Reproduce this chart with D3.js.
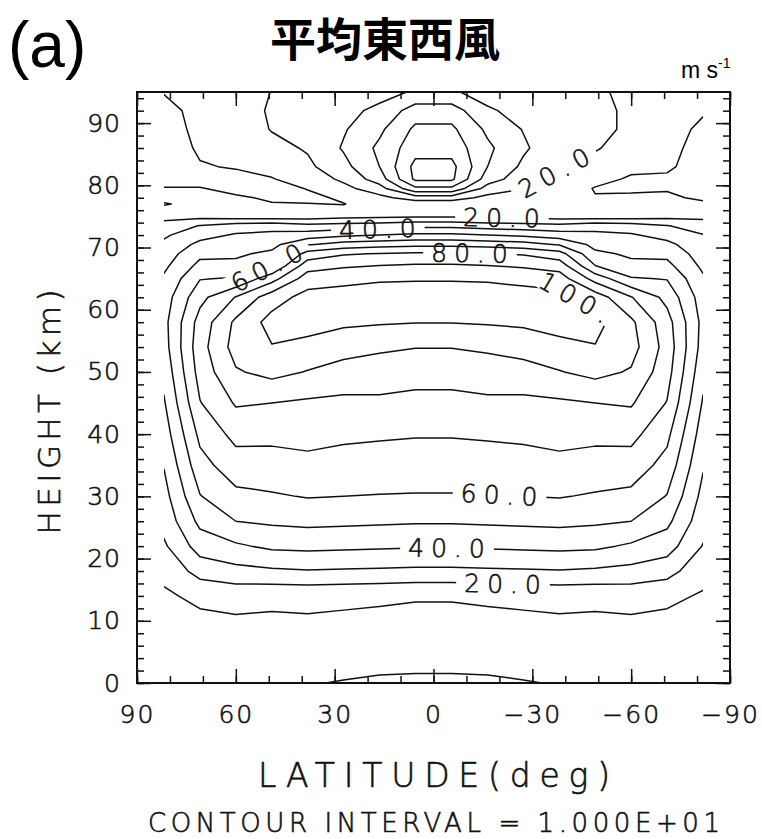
<!doctype html>
<html lang="ja">
<head>
<meta charset="utf-8">
<title>平均東西風</title>
<script src="https://cdn.jsdelivr.net/npm/d3@7"></script>
<style>
  body { margin: 0; background: #fff; }
  .plot-text { font-family: "DejaVu Sans", "Liberation Sans", sans-serif; font-weight: 200; fill: #111; stroke: #111; stroke-width: 0.6px; }
</style>
</head>
<body>
<div id="chart"></div>
<script>
// model grid latitudes (deg), north to south
var lats = [81.8, 70.9, 60.0, 49.1, 38.2, 27.3, 16.4, 5.5, -5.5, -16.4, -27.3, -38.2, -49.1, -60.0, -70.9, -81.8];

// heights of the grid rows (km)
var heights = [0, 2, 5, 10, 14, 18, 22, 26, 30, 35, 40, 45, 50, 54, 58, 62, 65, 67, 69, 70.5,
               72, 73.5, 75, 76, 77, 78, 79.5, 81, 83, 86, 89, 92, 95];

// zonal mean zonal wind (m/s), one row per height
var windRows = [
  [2, 2.5, 2.5, 1.5, 0.5, -0.5, -1.5, -2, -2, -1.5, -0.5, 0.5, 1.5, 2.5, 2.5, 2],            // 0
  [3, 3.5, 3.5, 3, 2, 1.5, 0.8, 0.6, 0.6, 0.8, 1.5, 2, 3, 3.5, 3.5, 3],                     // 2
  [4, 5, 5.5, 5.5, 4.5, 4, 3.5, 3, 3, 3.5, 4, 4.5, 5.5, 5.5, 5, 4],                         // 5
  [6.5, 8.3, 8.8, 8.5, 9, 8.5, 8, 7.5, 7.5, 8, 8.5, 9, 8.5, 8.8, 8.3, 6.8],                 // 10
  [8.8, 11.8, 13.5, 12.5, 12.5, 12, 11.5, 10.8, 10.8, 11.5, 12, 12.5, 12.5, 13.5, 11.8, 9.2], // 14
  [12, 24, 27, 28.5, 29.5, 29, 28.5, 28, 28, 28.5, 29, 29.5, 28.5, 27, 24, 12.8],           // 18
  [18.5, 34.5, 38.5, 42, 42.5, 42, 41.5, 41, 41, 41.5, 42, 42.5, 42, 38.5, 34.5, 19.5],     // 22
  [23.5, 42.5, 50, 51.5, 52.5, 52, 51.5, 51, 51, 51.5, 52, 52.5, 51.5, 50, 42.5, 24],       // 26
  [26.5, 49.5, 57.5, 59, 60.5, 60, 59.5, 59.2, 59.2, 59.5, 60, 60.5, 59, 57.5, 49.5, 27],   // 30
  [30.5, 56.5, 65.5, 66, 67.5, 67, 66.5, 66.5, 66.5, 66.5, 67, 67.5, 66, 65.5, 56.5, 31],   // 35
  [35, 62.5, 73, 72.5, 73, 71.5, 71, 70.5, 70.5, 71, 71.5, 73, 72.5, 73, 62.5, 35],         // 40
  [39, 69.5, 81, 80, 78.5, 77.5, 78, 77, 77, 78, 77.5, 78.5, 80, 81, 69.5, 39],             // 45
  [43, 74, 89, 93, 89.5, 87, 85.5, 84, 84, 85.5, 87, 89.5, 93, 89, 74, 43],                 // 50
  [46, 76, 94, 99.5, 97, 93, 91.5, 90.3, 90.3, 91.5, 93, 97, 99.5, 94, 76, 46],             // 54
  [47, 74, 92, 103.5, 104, 102, 101, 100.3, 100.3, 101, 102, 104, 103.5, 92, 74, 47],       // 58
  [45, 67, 80.5, 95.5, 103.5, 104.5, 106, 106, 106, 106, 104.5, 103.5, 95.5, 80.5, 67, 45], // 62
  [41.5, 59.5, 61, 76, 95, 97, 98.5, 99, 99, 98.5, 97, 95, 76, 61, 59.5, 41.5],             // 65
  [38, 53, 52.5, 60.5, 86, 89, 90.5, 91.5, 91.5, 90.5, 89, 86, 60.5, 52.5, 53, 38],         // 67
  [35, 47.5, 48.5, 52, 74, 79, 80.5, 81.5, 81.5, 80.5, 79, 74, 52, 48.5, 47.5, 35],         // 69
  [32, 42.5, 45, 47, 59, 64, 66, 67, 67, 66, 64, 59, 47, 45, 42.5, 33],                     // 70.5
  [28.5, 36.5, 41, 42.5, 45, 48, 50, 52, 52, 50, 48, 45, 42.5, 41, 36.5, 30.5],             // 72
  [23, 30.5, 35, 36, 33, 34, 35, 37, 37, 35, 34, 33, 36, 35, 30.5, 24],                     // 73.5
  [17.5, 17, 15, 15, 15, 17, 18, 19, 19, 18, 17, 15, 15, 15, 17, 18],                       // 75
  [12, 13.5, 12, 10.5, 11.5, 11.5, 12, 12.5, 12.5, 12, 12, 11.5, 11, 12, 13.5, 14],         // 76
  [9.5, 12, 11, 10.2, 10.2, 9.8, 13, 14, 14, 13, 11.5, 11, 10.5, 11, 12, 11],               // 77
  [12, 11.5, 10.5, 9.5, 8.5, 11, 17, 25, 25, 17, 13, 11.5, 10.3, 10.5, 11, 9],              // 78
  [10.3, 10.2, 9, 7.5, 10.3, 17, 26, 48, 48, 26, 20.5, 14, 9.6, 9.5, 9.5, 7.5],             // 79.5
  [8, 8.5, 8, 9.5, 14, 22, 35, 62, 62, 35, 24, 17, 12, 9.2, 9, 7],                          // 81
  [6.5, 9.5, 10.5, 13, 18, 27, 40, 63, 63, 40, 28, 21, 16, 11.5, 11, 7],                    // 83
  [6, 11, 13, 17, 21, 31, 42, 56, 56, 42, 31.5, 23, 21, 15, 12, 7.5],                       // 86
  [6.5, 12, 14, 20.5, 22, 29, 38, 52, 52, 38, 29.5, 24, 23, 18, 12, 9],                     // 89
  [8, 12, 14, 21.5, 22, 27.5, 32, 45, 45, 31, 27.5, 24, 23, 18, 12, 10.5],                  // 92
  [10.3, 11.5, 13.5, 20.3, 20.5, 24, 27, 31, 31, 27, 24, 23, 22, 17, 11.5, 12]              // 95
];

var levels = [0, 10, 20, 30, 40, 50, 60, 70, 80, 90, 100, 110];
var latTicks = [90, 60, 30, 0, -30, -60, -90];
var heightTicks = [0, 10, 20, 30, 40, 50, 60, 70, 80, 90];

// contour labels: level, and roughly where on that contour it sits
var labels = [
  {level: 20, lat: -22, z: 15.9, text: "20.0"},
  {level: 40, lat: -5, z: 21.9, text: "40.0"},
  {level: 60, lat: -21, z: 30.5, text: "60.0"},
  {level: 80, lat: -12, z: 69.1, text: "80.0"},
  {level: 40, lat: 16, z: 73.1, text: "40.0"},
  {level: 20, lat: -21.7, z: 74.7, text: "20.0"},
  {level: 60, lat: 49.6, z: 66.9, text: "60.0"},
  {level: 100, lat: -40.8, z: 59.5, text: "100."},
  {level: 20, lat: -36.9, z: 82.8, text: "20.0"}
];

var W = 762, H = 839;
var svg = d3.select("#chart").append("svg")
    .attr("width", W).attr("height", H)
    .style("background", "#fff");

var x = d3.scaleLinear().domain([90, -90]).range([137, 730]);
var y = d3.scaleLinear().domain([0, 95]).range([683, 92]);

var nx = lats.length, ny = heights.length;
// grid index -> lat / height (piecewise linear, grid is not evenly spaced)
var colLat = d3.scaleLinear().domain(d3.range(nx)).range(lats);
var rowZ = d3.scaleLinear().domain(d3.range(ny)).range(heights);

var values = [].concat.apply([], windRows);
var contours = d3.contours().size([nx, ny]).thresholds(levels)(values);

function toPx(p) { return [x(colLat(p[0] - 0.5)), y(rowZ(p[1] - 0.5))]; }

var proj = d3.geoTransform({
  point: function(px, py) { var q = toPx([px, py]); this.stream.point(q[0], q[1]); }
});
var path = d3.geoPath(proj);

var clipX0 = x(lats[0]), clipX1 = x(lats[nx - 1]);
var defs = svg.append("defs");
defs.append("clipPath").attr("id", "gridclip")
  .append("rect")
    .attr("x", clipX0).attr("y", y(95))
    .attr("width", clipX1 - clipX0).attr("height", y(0) - y(95));

//find each label's spot on its contour
function ringsFor(level) {
  var c = contours.find(function(d) { return d.value === level; });
  var out = [];
  if (!c) return out;
  c.coordinates.forEach(function(poly) {
    poly.forEach(function(ring) { out.push(ring.map(toPx)); });
  });
  return out;
}

function inside(p) { return p[0] >= clipX0 && p[0] <= clipX1 && p[1] >= y(95) && p[1] <= y(0); }

function walk(ring, k, t, dist, dir) {
  // walk along ring from point on segment k (param t) by dist in direction dir
  var n = ring.length;
  var cur = [ring[k][0] + t * (ring[(k + 1) % n][0] - ring[k][0]), ring[k][1] + t * (ring[(k + 1) % n][1] - ring[k][1])];
  var idx = dir > 0 ? (k + 1) % n : k;
  var left = dist;
  for (var s = 0; s < n; s++) {
    var nxt = ring[idx];
    var dx = nxt[0] - cur[0], dy = nxt[1] - cur[1], len = Math.hypot(dx, dy);
    if (len >= left && len > 0) return [cur[0] + dx * left / len, cur[1] + dy * left / len];
    left -= len; cur = nxt;
    idx = dir > 0 ? (idx + 1) % n : (idx - 1 + n) % n;
  }
  return cur;
}

labels.forEach(function(lb) {
  var hx = x(lb.lat), hy = y(lb.z), best = null;
  ringsFor(lb.level).forEach(function(ring) {
    for (var k = 0; k < ring.length - 1; k++) {
      var a = ring[k], b = ring[k + 1];
      if (!inside(a) || !inside(b)) continue;
      var dx = b[0] - a[0], dy = b[1] - a[1], l2 = dx * dx + dy * dy;
      var t = l2 ? Math.max(0, Math.min(1, ((hx - a[0]) * dx + (hy - a[1]) * dy) / l2)) : 0;
      var px = a[0] + t * dx, py = a[1] + t * dy, d = Math.hypot(px - hx, py - hy);
      if (!best || d < best.d) best = {d: d, ring: ring, k: k, t: t, px: px, py: py};
    }
  });
  if (!best) { lb.px = hx; lb.py = hy; lb.angle = 0; return; }
  var p0 = walk(best.ring, best.k, best.t, 24, -1);
  var p1 = walk(best.ring, best.k, best.t, 24, 1);
  var ang = Math.atan2(p1[1] - p0[1], p1[0] - p0[0]) * 180 / Math.PI;
  if (ang > 90) ang -= 180;
  if (ang < -90) ang += 180;
  lb.px = best.px; lb.py = best.py; lb.angle = ang;
});

// text layer first so widths can be measured for the gaps
var labelG = svg.append("g").attr("class", "labels");
labels.forEach(function(lb) {
  lb.node = labelG.append("text")
      .attr("class", "plot-text")
      .attr("transform", "translate(" + lb.px + "," + lb.py + ") rotate(" + lb.angle + ")")
      .attr("text-anchor", "middle")
      .attr("dy", "0.36em")
      .attr("font-size", 25)
      .attr("letter-spacing", 7)
      .text(lb.text);
  lb.w = lb.node.node().getComputedTextLength();
});

// masks cut a gap into a contour where its label sits
levels.forEach(function(lv) {
  var m = defs.append("mask").attr("id", "mask" + lv).attr("maskUnits", "userSpaceOnUse")
      .attr("x", 0).attr("y", 0).attr("width", W).attr("height", H);
  m.append("rect").attr("width", W).attr("height", H).attr("fill", "#fff");
  labels.filter(function(lb) { return lb.level === lv; }).forEach(function(lb) {
    m.append("rect")
      .attr("x", -lb.w / 2 - 8).attr("y", -10)
      .attr("width", lb.w + 10).attr("height", 20)
      .attr("transform", "translate(" + lb.px + "," + lb.py + ") rotate(" + lb.angle + ")")
      .attr("fill", "#000");
  });
});

svg.append("g")
    .attr("clip-path", "url(#gridclip)")
  .selectAll("path")
  .data(contours)
  .enter().append("path")
    .attr("d", path)
    .attr("mask", function(d) { return "url(#mask" + d.value + ")"; })
    .attr("fill", "none")
    .attr("stroke", "#111")
    .attr("stroke-width", 1.5)
    .attr("stroke-linejoin", "round");

labelG.raise();

// axes, ticks pointing into the frame
function addAxis(axis, tr) {
  var g = svg.append("g").attr("transform", tr).call(axis);
  g.select(".domain").remove();
  g.selectAll("line").attr("stroke", "#111").attr("stroke-width", 1.5);
  g.selectAll("text").attr("class", "plot-text").attr("font-size", 25).attr("fill", "#111");
  g.attr("font-family", null).attr("font-size", null);
  return g;
}
var minorLat = d3.range(-90, 91, 10), minorZ = d3.range(0, 95, 2);

addAxis(d3.axisBottom(x).tickValues(minorLat).tickSize(-7).tickFormat(""), "translate(0,683)");
addAxis(d3.axisBottom(x).tickValues(latTicks).tickSize(-14).tickPadding(22), "translate(0,683)")
  .selectAll("text").attr("letter-spacing", 2);
addAxis(d3.axisTop(x).tickValues(minorLat).tickSize(-7).tickFormat(""), "translate(0,92)");
addAxis(d3.axisTop(x).tickValues(latTicks).tickSize(-14).tickFormat(""), "translate(0,92)");
addAxis(d3.axisLeft(y).tickValues(minorZ).tickSize(-7).tickFormat(""), "translate(137,0)");
addAxis(d3.axisLeft(y).tickValues(heightTicks).tickSize(-14).tickPadding(16), "translate(137,0)")
  .selectAll("text").attr("letter-spacing", 1);
addAxis(d3.axisRight(y).tickValues(minorZ).tickSize(-7).tickFormat(""), "translate(730,0)");
addAxis(d3.axisRight(y).tickValues(heightTicks).tickSize(-14).tickFormat(""), "translate(730,0)");

// frame
svg.append("rect")
    .attr("x", 137).attr("y", 92)
    .attr("width", 730 - 137).attr("height", 683 - 92)
    .attr("fill", "none").attr("stroke", "#111").attr("stroke-width", 2);

// titles
svg.append("text")
    .attr("x", 8).attr("y", 67)
    .attr("font-family", "Liberation Sans, Arial, sans-serif")
    .attr("font-size", 64)
    .text("(a)");

svg.append("text")
    .attr("x", 385).attr("y", 56)
    .attr("text-anchor", "middle")
    .attr("font-family", "Noto Sans CJK JP, Noto Sans CJK SC, sans-serif")
    .attr("font-weight", 700)
    .attr("font-size", 46)
    .text("平均東西風");

var unit = svg.append("text")
    .attr("x", 681).attr("y", 78)
    .attr("font-family", "Liberation Sans, Arial, sans-serif")
    .attr("font-size", 23)
    .text("m s");
unit.append("tspan").attr("dy", -10).attr("font-size", 14).text("-1");

svg.append("text")
    .attr("class", "plot-text")
    .attr("transform", "translate(60,412) rotate(-90)")
    .attr("text-anchor", "middle")
    .attr("font-size", 31)
    .attr("textLength", 245).attr("lengthAdjust", "spacing")
    .text("HEIGHT (km)");

svg.append("text")
    .attr("class", "plot-text")
    .attr("x", 434).attr("y", 787)
    .attr("text-anchor", "middle")
    .attr("font-size", 33)
    .attr("textLength", 352).attr("lengthAdjust", "spacing")
    .text("LATITUDE(deg)");

svg.append("text")
    .attr("class", "plot-text")
    .attr("x", 434).attr("y", 832)
    .attr("text-anchor", "middle")
    .attr("font-size", 26)
    .attr("textLength", 572).attr("lengthAdjust", "spacing")
    .text("CONTOUR INTERVAL = 1.000E+01");
</script>
</body>
</html>
